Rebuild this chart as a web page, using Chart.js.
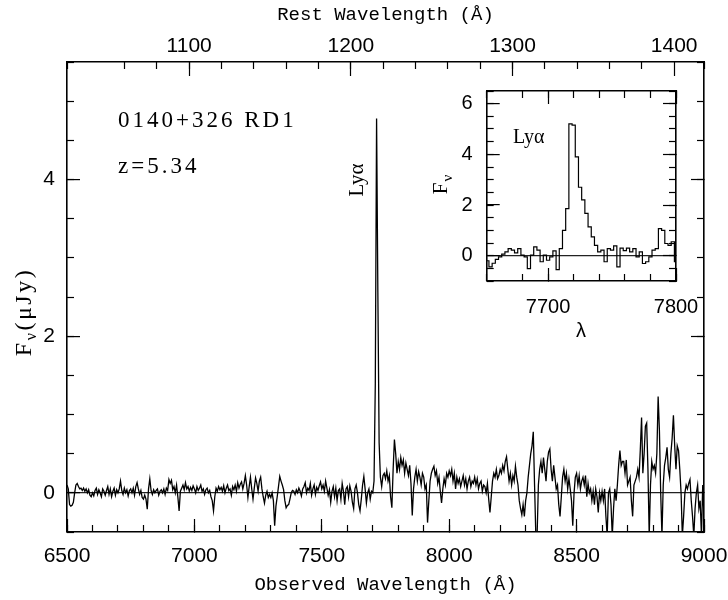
<!DOCTYPE html>
<html>
<head>
<meta charset="utf-8">
<script src="https://cdn.jsdelivr.net/npm/chart.js@4.4.1/dist/chart.umd.min.js"></script>
<style>
	html, body { margin: 0; padding: 0; background: #fff; }
	#wrap  { position: relative; width: 728px; height: 600px; background: #fff; }
	#main  { position: absolute; left: 0; top: 0; }
	#inset { position: absolute; left: 420px; top: 80px; }
</style>
</head>
<body>
<div id="wrap">
	<canvas id="main" width="728" height="600"></canvas>
	<canvas id="inset" width="290" height="270"></canvas>
</div>
<script>
( function () {
	'use strict';

	// Observed spectrum, 5 Å sampling starting at 6500 Å (one row = 100 Å).
	var WAVE_START = 6500;
	var WAVE_STEP  = 5;
	var FLUX = [
		0.10, 0.05, -0.15, -0.17, -0.16, -0.12, 0.00, 0.10, 0.12, 0.08, 0.05, 0.06, 0.03, 0.06, 0.02, 0.05, 0.00, 0.04, -0.03, -0.05,
		0.00, -0.04, 0.03, 0.06, -0.02, 0.04, 0.00, -0.05, 0.05, 0.02, -0.03, 0.03, 0.08, -0.02, 0.05, -0.05, 0.02, 0.06, -0.03, 0.04,
		0.00, 0.05, 0.15, 0.03, -0.02, 0.06, 0.00, 0.04, -0.04, 0.03, 0.05, 0.00, 0.06, -0.03, 0.08, 0.13, 0.05, -0.02, 0.03, -0.06,
		-0.08, -0.03, -0.08, -0.21, 0.05, 0.18, 0.03, -0.02, 0.04, 0.00, 0.03, 0.05, -0.03, 0.02, 0.04, 0.00, 0.05, -0.02, 0.06, 0.03,
		0.17, 0.12, 0.16, 0.04, 0.08, 0.00, 0.10, -0.05, -0.23, 0.02, 0.06, 0.10, 0.04, 0.13, 0.05, 0.08, 0.02, 0.07, 0.03, 0.09,
		0.05, 0.00, 0.08, 0.03, 0.06, 0.10, 0.02, 0.05, -0.02, 0.04, 0.06, 0.00, 0.03, -0.05, -0.10, -0.23, -0.05, 0.06, 0.02, 0.08,
		0.04, 0.07, 0.02, 0.09, 0.00, 0.06, 0.10, 0.03, 0.05, -0.03, 0.08, 0.04, 0.10, 0.02, 0.13, 0.06, 0.11, 0.14, 0.05, 0.12,
		0.22, 0.10, -0.06, 0.08, 0.20, 0.05, -0.08, 0.06, 0.19, 0.12, 0.02, 0.15, 0.20, 0.05, -0.05, -0.13, -0.03, 0.02, -0.06, -0.02,
		-0.06, 0.00, -0.10, -0.42, -0.17, -0.05, 0.08, 0.21, 0.15, 0.10, 0.04, -0.10, -0.19, -0.16, -0.15, -0.08, 0.00, 0.03, 0.02, -0.02,
		0.04, 0.00, 0.06, 0.02, -0.04, 0.05, 0.08, 0.13, 0.00, 0.06, 0.03, 0.12, -0.03, 0.05, 0.10, -0.02, 0.07, 0.03, 0.09, 0.14,
		0.05, 0.10, 0.02, 0.15, 0.06, -0.03, 0.04, -0.12, 0.02, 0.08, -0.05, 0.06, -0.10, 0.03, 0.05, -0.08, 0.12, 0.02, -0.15, 0.05,
		0.08, -0.05, 0.09, 0.02, -0.12, -0.20, 0.05, 0.10, 0.00, -0.15, -0.23, -0.08, 0.10, 0.21, 0.05, -0.13, 0.00, 0.05, -0.08, 0.02,
		0.00, 0.15, 1.40, 4.78, 2.56, 0.64, 0.20, 0.08, 0.22, 0.25, 0.18, 0.28, 0.15, 0.22, -0.05, -0.19, 0.30, 0.68, 0.50, 0.25,
		0.40, 0.30, 0.45, 0.35, 0.42, 0.25, 0.38, 0.30, 0.22, 0.35, 0.12, -0.29, 0.05, 0.20, 0.30, 0.15, 0.27, 0.20, 0.10, 0.25,
		0.20, 0.05, 0.10, -0.38, -0.10, 0.15, 0.25, 0.30, 0.34, 0.22, 0.28, 0.12, 0.20, 0.02, -0.13, 0.05, 0.18, 0.10, 0.25, 0.20,
		0.28, 0.22, 0.30, 0.15, 0.25, 0.05, 0.20, 0.12, 0.18, 0.08, 0.15, 0.22, 0.10, 0.18, 0.05, 0.15, 0.20, 0.08, 0.15, 0.12,
		0.20, 0.10, 0.18, 0.05, 0.12, 0.15, 0.02, 0.10, 0.08, 0.00, 0.12, -0.08, -0.25, -0.05, 0.15, 0.25, 0.20, 0.30, 0.18, 0.22,
		0.30, 0.25, 0.35, 0.28, 0.40, 0.46, 0.30, 0.15, 0.25, 0.10, 0.22, 0.15, 0.34, 0.20, 0.10, -0.10, -0.20, -0.28, -0.15, -0.30,
		-0.10, 0.00, 0.20, 0.35, 0.50, 0.60, 0.78, 0.10, -0.55, -0.55, 0.10, 0.30, 0.40, 0.25, 0.45, 0.30, 0.15, 0.40, 0.52, 0.56,
		0.30, 0.15, 0.35, 0.20, 0.05, 0.10, -0.15, -0.30, -0.05, 0.20, 0.30, 0.15, 0.25, 0.05, 0.18, 0.05, -0.10, -0.42, 0.00, 0.20,
		0.25, 0.10, 0.22, 0.05, 0.15, 0.20, 0.10, 0.22, -0.05, 0.12, 0.00, 0.05, -0.10, 0.02, -0.15, 0.05, -0.05, -0.25, 0.00, -0.10,
		0.02, -0.10, 0.05, -0.30, -0.55, 0.00, 0.05, -0.15, -0.55, -0.20, 0.05, -0.10, 0.10, 0.35, 0.54, 0.35, 0.40, 0.40, 0.25, 0.42,
		0.10, 0.15, 0.20, -0.10, -0.30, 0.10, 0.15, 0.20, 0.30, 0.20, 0.55, 0.96, 0.25, 0.50, 0.85, 0.89, 0.30, -0.55, 0.10, 0.40,
		0.30, 0.35, 0.25, 0.50, 1.23, 0.80, 0.00, -0.55, 0.10, 0.35, 0.45, 0.58, 0.30, 0.20, 0.50, 0.70, 0.99, 0.60, 0.30, 0.60,
		0.54, 0.30, 0.00, -0.55, -0.30, 0.00, 0.10, 0.05, 0.12, 0.17, -0.10, -0.30, -0.55, -0.20, 0.00, 0.10, -0.20, -0.10, -0.55, 0.10,
		-0.30
	];

	// Inset: Lyα region, 2.5 Å bins from 7650 Å.
	var INSET_START = 7650;
	var INSET_STEP  = 2.5;
	var INSET_FLUX  = [
		-0.18, -0.20, -0.44, -0.30, -0.15, -0.05, 0.06, 0.15, 0.28, 0.22,
		0.11, 0.28, 0.02, -0.05, -0.51, 0.02, 0.35, 0.22, -0.24, 0.02,
		-0.18, -0.05, 0.19, -0.55, 0.28, 1.00, 1.86, 5.20, 5.15, 3.90,
		2.70, 2.20, 1.67, 1.14, 0.74, 0.41, 0.15, 0.22, -0.24, 0.28,
		0.22, 0.39, -0.44, 0.30, 0.20, 0.30, 0.15, 0.28, -0.05, 0.15,
		-0.31, -0.24, -0.05, 0.22, 0.28, 1.07, 1.00, 0.48, 0.41, 0.55,
		-0.24
	];

	var OBS_PER_REST  = 6.345; // 1 + z used for the rest-frame axis
	var OBS_TICKS     = [ 6500, 7000, 7500, 8000, 8500, 9000 ];
	var REST_TICKS    = [ 1100, 1200, 1300, 1400 ];
	var FLUX_TICKS    = [ 0, 2, 4 ];
	var INSET_X_TICKS = [ 7700, 7800 ];
	var INSET_Y_TICKS = [ 0, 2, 4, 6 ];

	var OBJECT_NAME = '0140+326 RD1';
	var OBJECT_Z    = 'z=5.34';

	var SANS  = '"Liberation Sans", Arial, Helvetica, sans-serif';
	var SERIF = '"Liberation Serif", "DejaVu Serif", serif';
	var MONO  = '"Liberation Mono", "DejaVu Sans Mono", monospace';

	function toPoints( start, step, values ) {
		return values.map( function ( v, i ) {
			return { x: start + i * step, y: v };
		} );
	}

	// Pin the axis box size and drop the label overhang padding, so the
	// plot frame lands exactly where the original figure has it.
	function fixedSize( size ) {
		return function ( scale ) {
			if ( scale.isHorizontal() ) {
				scale.height = size;
			} else {
				scale.width = size;
			}
			scale.paddingLeft   = 0;
			scale.paddingRight  = 0;
			scale.paddingTop    = 0;
			scale.paddingBottom = 0;
		};
	}

	function useTicks( values ) {
		return function ( scale ) {
			scale.ticks = values.map( function ( v ) {
				return { value: v };
			} );
		};
	}

	// One side of the frame: ticks point inwards (negative tick length).
	function sideAxis( cfg ) {
		var axis = {
			type:     'linear',
			position: cfg.position,
			min:      cfg.min,
			max:      cfg.max,
			weight:   cfg.weight || 0,
			afterFit: fixedSize( cfg.size ),
			border:   { display: !! cfg.border, color: '#000', width: 1.6 },
			grid:     {
				drawOnChartArea: false,
				drawTicks:       true,
				tickLength:      -cfg.tickLength,
				tickColor:       '#000',
				tickWidth:       1.2,
			},
			ticks: {
				display:       !! cfg.labels,
				autoSkip:      false,
				maxRotation:   0,
				minRotation:   0,
				padding:       cfg.padding || 0,
				stepSize:      cfg.step,
				maxTicksLimit: 1000,
				color:         '#000',
				font:          { family: SANS, size: cfg.fontSize || 21 },
				callback:      function ( v ) {
					return String( v );
				},
			},
			title: { display: false },
		};
		if ( cfg.ticks ) {
			axis.afterBuildTicks = useTicks( cfg.ticks );
		}
		if ( cfg.zeroLine ) {
			axis.grid.drawOnChartArea = true;
			axis.grid.lineWidth = 1.2;
			axis.grid.color = function ( ctx ) {
				return ctx.tick && ctx.tick.value === 0 ? '#222' : 'rgba(0,0,0,0)';
			};
		}
		if ( cfg.title ) {
			axis.title = {
				display: true,
				text:    cfg.title,
				color:   '#000',
				font:    { family: MONO, size: 19 },
				padding: { top: 4, bottom: 4 },
			};
		}
		return axis;
	}

	// Text made of pieces with their own size / baseline shift (for F_ν).
	function drawParts( ctx, parts, x, y, rotate, spacing ) {
		ctx.save();
		ctx.translate( x, y );
		if ( rotate ) {
			ctx.rotate( -Math.PI / 2 );
		}
		ctx.letterSpacing = spacing || '0px';
		var total = 0;
		parts.forEach( function ( p ) {
			ctx.font = p.size + 'px ' + SERIF;
			total += ctx.measureText( p.text ).width;
		} );
		var cx = -total / 2;
		parts.forEach( function ( p ) {
			ctx.font = p.size + 'px ' + SERIF;
			ctx.fillText( p.text, cx, p.dy || 0 );
			cx += ctx.measureText( p.text ).width;
		} );
		ctx.restore();
	}

	var mainLabels = {
		id: 'mainLabels',
		afterDraw: function ( chart ) {
			var ctx = chart.ctx;
			ctx.save();
			ctx.fillStyle     = '#000';
			ctx.textBaseline  = 'alphabetic';
			ctx.textAlign     = 'left';
			ctx.font          = '23px ' + SERIF;
			ctx.letterSpacing = '3px';
			ctx.fillText( OBJECT_NAME, 118, 127 );
			ctx.fillText( OBJECT_Z, 118, 173 );
			ctx.restore();

			ctx.save();
			ctx.fillStyle    = '#000';
			ctx.textBaseline = 'alphabetic';
			drawParts( ctx, [ { text: 'Lyα', size: 21 } ], 363, 180, true );
			drawParts( ctx, [
				{ text: 'F', size: 24 },
				{ text: 'ν', size: 16, dy: 5 },
				{ text: '(μJy)', size: 24 },
			], 31, 312, true, '2.5px' );
			ctx.restore();
		},
	};

	var insetLabels = {
		id: 'insetLabels',
		afterDraw: function ( chart ) {
			var ctx = chart.ctx;
			ctx.save();
			ctx.fillStyle    = '#000';
			ctx.textBaseline = 'alphabetic';
			ctx.textAlign    = 'left';
			ctx.font         = '20px ' + SERIF;
			ctx.fillText( 'Lyα', 93, 63 );
			drawParts( ctx, [
				{ text: 'F', size: 21 },
				{ text: 'ν', size: 15, dy: 5 },
			], 27, 104, true, '1px' );
			ctx.textAlign    = 'center';
			ctx.textBaseline = 'middle';
			ctx.font         = '20px ' + SANS;
			ctx.fillText( 'λ', 161, 251 );
			ctx.restore();
		},
	};

	var baseOptions = {
		responsive:       false,
		animation:        false,
		devicePixelRatio: 1,
		events:           [],
		layout:           { padding: 0 },
		plugins:          {
			legend:  { display: false },
			tooltip: { enabled: false },
		},
	};

	var obsMin  = 6500;
	var obsMax  = 9000;
	var fluxMin = -0.5;
	var fluxMax = 5.5;

	new Chart( document.getElementById( 'main' ), {
		type: 'line',
		data: {
			datasets: [ {
				data:        toPoints( WAVE_START, WAVE_STEP, FLUX ),
				borderColor: '#000',
				borderWidth: 1.3,
				pointRadius: 0,
				tension:     0,
				fill:        false,
				xAxisID:     'x',
				yAxisID:     'y',
			} ],
		},
		options: Object.assign( {}, baseOptions, {
			scales: {
				x: sideAxis( {
					position: 'bottom', min: obsMin, max: obsMax, size: 68, weight: 1,
					tickLength: 13, ticks: OBS_TICKS, labels: true, padding: 25,
					border: true, title: 'Observed Wavelength (Å)',
				} ),
				xMinor: sideAxis( {
					position: 'bottom', min: obsMin, max: obsMax, size: 0,
					tickLength: 7, step: 100,
				} ),
				xRest: sideAxis( {
					position: 'top', min: obsMin / OBS_PER_REST, max: obsMax / OBS_PER_REST,
					size: 62, weight: 1, tickLength: 14, ticks: REST_TICKS, labels: true,
					padding: 17, border: true, title: 'Rest Wavelength (Å)',
				} ),
				xRestMinor: sideAxis( {
					position: 'top', min: obsMin / OBS_PER_REST, max: obsMax / OBS_PER_REST,
					size: 0, tickLength: 7, step: 20,
				} ),
				y: sideAxis( {
					position: 'left', min: fluxMin, max: fluxMax, size: 67, weight: 1,
					tickLength: 13, ticks: FLUX_TICKS, labels: true, padding: 25,
					border: true, zeroLine: true,
				} ),
				yMinor: sideAxis( {
					position: 'left', min: fluxMin, max: fluxMax, size: 0,
					tickLength: 7, step: 0.5,
				} ),
				yRight: sideAxis( {
					position: 'right', min: fluxMin, max: fluxMax, size: 24, weight: 1,
					tickLength: 13, ticks: FLUX_TICKS, border: true,
				} ),
				yRightMinor: sideAxis( {
					position: 'right', min: fluxMin, max: fluxMax, size: 0,
					tickLength: 7, step: 0.5,
				} ),
			},
		} ),
		plugins: [ mainLabels ],
	} );

	var inXMin = 7652;
	var inXMax = 7800;
	var inYMin = -1;
	var inYMax = 6.5;

	new Chart( document.getElementById( 'inset' ), {
		type: 'line',
		data: {
			datasets: [ {
				data:        toPoints( INSET_START, INSET_STEP, INSET_FLUX ),
				borderColor: '#000',
				borderWidth: 1.2,
				pointRadius: 0,
				stepped:     'middle',
				fill:        false,
				xAxisID:     'x',
				yAxisID:     'y',
			} ],
		},
		options: Object.assign( {}, baseOptions, {
			scales: {
				x: sideAxis( {
					position: 'bottom', min: inXMin, max: inXMax, size: 69, weight: 1,
					tickLength: 13, ticks: INSET_X_TICKS, labels: true, padding: 27,
					border: true, fontSize: 20,
				} ),
				xMinor: sideAxis( {
					position: 'bottom', min: inXMin, max: inXMax, size: 0,
					tickLength: 7, step: 20,
				} ),
				xTop: sideAxis( {
					position: 'top', min: inXMin, max: inXMax, size: 11, weight: 1,
					tickLength: 13, ticks: INSET_X_TICKS, border: true,
				} ),
				xTopMinor: sideAxis( {
					position: 'top', min: inXMin, max: inXMax, size: 0,
					tickLength: 7, step: 20,
				} ),
				y: sideAxis( {
					position: 'left', min: inYMin, max: inYMax, size: 66.7, weight: 1,
					tickLength: 13, ticks: INSET_Y_TICKS, labels: true, padding: 27,
					border: true, zeroLine: true, fontSize: 20,
				} ),
				yMinor: sideAxis( {
					position: 'left', min: inYMin, max: inYMax, size: 0,
					tickLength: 7, step: 0.5,
				} ),
				yRight: sideAxis( {
					position: 'right', min: inYMin, max: inYMax, size: 34, weight: 1,
					tickLength: 13, ticks: INSET_Y_TICKS, border: true,
				} ),
				yRightMinor: sideAxis( {
					position: 'right', min: inYMin, max: inYMax, size: 0,
					tickLength: 7, step: 0.5,
				} ),
			},
		} ),
		plugins: [ insetLabels ],
	} );

} )();
</script>
</body>
</html>
